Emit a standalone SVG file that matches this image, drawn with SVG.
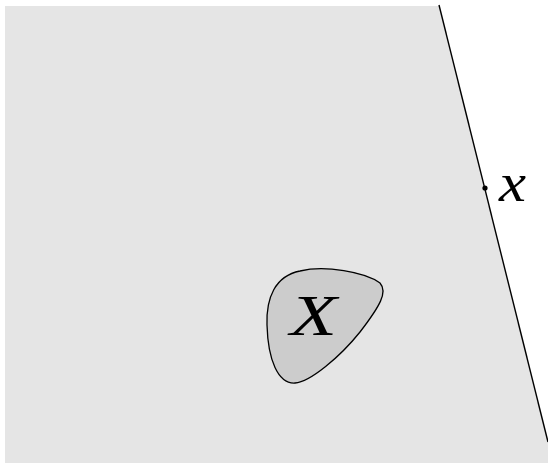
<svg xmlns="http://www.w3.org/2000/svg" width="548" height="463" viewBox="0 0 548 463">
<style>
.lbl{font-family:"Liberation Serif","DejaVu Serif",serif;font-style:italic;fill:#000}
</style>
<rect width="548" height="463" fill="#ffffff"/>
<g id="region">
<polygon points="5,6 439,6 548,442 548,463 5,463" fill="#e5e5e5"/>
<line x1="439" y1="5" x2="548" y2="442" stroke="#000" stroke-width="1.4"/>
</g>
<g id="X">
<path d="M 295,383 C 278,384 268,360 267,325 C 266,298 275,276 300,271 C 325,265 365,272 380,283 C 388,292 380,306 360,332 C 340,357 310,382 295,383 Z" fill="#cccccc" stroke="#000" stroke-width="1.3"/>
<text class="lbl" x="290" y="335" font-size="56" textLength="47" lengthAdjust="spacingAndGlyphs">X</text>
</g>
<g id="x">
<circle cx="485" cy="188" r="2.6" fill="#000"/>
<text class="lbl" x="499" y="201" font-size="54" textLength="27" lengthAdjust="spacingAndGlyphs">x</text>
</g>
</svg>
